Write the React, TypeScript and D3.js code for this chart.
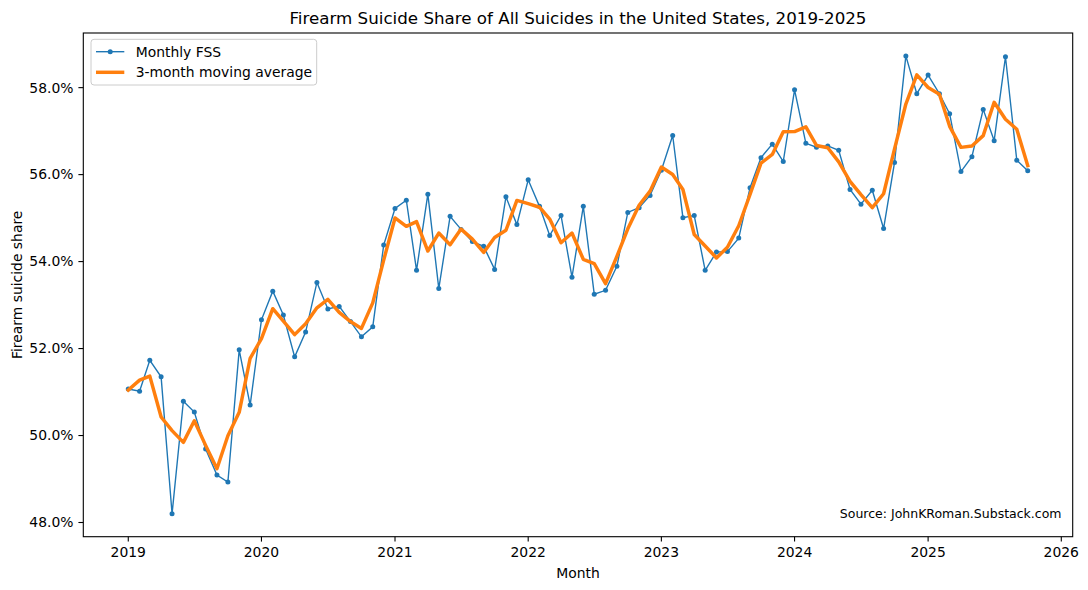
import { useEffect } from 'react'
import * as d3 from 'd3'

// Monthly firearm suicide share (%), Jan 2019 .. Oct 2025
const startMonth = '2019-01'
const monthlyFSS = [
  51.07, 51.02, 51.73, 51.35, 48.2, 50.79, 50.54, 49.69, 49.09, 48.93, 51.97, 50.7,
  52.66, 53.32, 52.77, 51.81, 52.38, 53.52, 52.91, 52.97, 52.62, 52.27, 52.5, 54.38,
  55.22, 55.41, 53.8, 55.55, 53.38, 55.04, 54.74, 54.46, 54.35, 53.82, 55.49, 54.85,
  55.88, 55.27, 54.6, 55.06, 53.64, 55.27, 53.25, 53.34, 53.89, 55.13, 55.24, 55.52,
  56.1, 56.9, 55.01, 55.06, 53.8, 54.22, 54.23, 54.54, 55.7, 56.39, 56.7, 56.3,
  57.95, 56.72, 56.63, 56.66, 56.56, 55.66, 55.32, 55.64, 54.76, 56.28, 58.73, 57.86,
  58.29, 57.86, 57.4, 56.07, 56.41, 57.5, 56.78, 58.71, 56.33, 56.09
]
const yTicks = [48, 50, 52, 54, 56, 58]
const xTickYears = [2019, 2020, 2021, 2022, 2023, 2024, 2025, 2026]

const W = 1088
const H = 590
const margin = { top: 33, right: 15.3, bottom: 53.3, left: 83.3 }
const font = 'DejaVu Sans, sans-serif'

type Pt = { date: Date; value: number }

export default function App() {
  useEffect(() => {
    document.body.style.margin = '0'
  }, [])

  const parse = d3.timeParse('%Y-%m')
  const start = parse(startMonth) as Date
  const points: Pt[] = monthlyFSS.map((v, i) => ({ date: d3.timeMonth.offset(start, i), value: v }))

  // centered 3-month rolling mean (min 1 period at the edges)
  const smooth: Pt[] = points.map((p, i) => {
    const win = monthlyFSS.slice(Math.max(0, i - 1), i + 2)
    return { date: p.date, value: d3.mean(win) as number }
  })

  const x0 = points[0].date.getTime()
  const x1 = points[points.length - 1].date.getTime()
  const xPad = (x1 - x0) * 0.05
  const [yMin, yMax] = d3.extent(monthlyFSS) as [number, number]
  const yPad = (yMax - yMin) * 0.05

  const x = d3.scaleTime()
    .domain([new Date(x0 - xPad), new Date(x1 + xPad)])
    .range([margin.left, W - margin.right])
  const y = d3.scaleLinear()
    .domain([yMin - yPad, yMax + yPad])
    .range([H - margin.bottom, margin.top])

  const line = d3.line<Pt>().x(d => x(d.date)).y(d => y(d.value))

  const left = margin.left
  const right = W - margin.right
  const top = margin.top
  const bottom = H - margin.bottom
  const tickLen = 4.9

  return (
    <svg width={W} height={H} style={{ display: 'block', background: '#fff' }} fontFamily={font}>
      <text x={(left + right) / 2} y={24} textAnchor="middle" fontSize={16.7} fill="#000">
        Firearm Suicide Share of All Suicides in the United States, 2019-2025
      </text>

      <path d={line(points) ?? ''} fill="none" stroke="#1f77b4" strokeWidth={1.39} />
      {points.map((d, i) => (
        <circle key={i} cx={x(d.date)} cy={y(d.value)} r={2.5} fill="#1f77b4" />
      ))}
      <path d={line(smooth) ?? ''} fill="none" stroke="#ff7f0e" strokeWidth={3.47} strokeLinejoin="round" strokeLinecap="square" />

      {/* axes frame */}
      <rect x={left} y={top} width={right - left} height={bottom - top} fill="none" stroke="#000" strokeWidth={1.1} />

      {/* y axis */}
      {yTicks.map(t => (
        <g key={t}>
          <line x1={left - tickLen} x2={left} y1={y(t)} y2={y(t)} stroke="#000" strokeWidth={1.1} />
          <text x={left - tickLen - 4.9} y={y(t)} dy="0.35em" textAnchor="end" fontSize={13.9} fill="#000">
            {t.toFixed(1)}%
          </text>
        </g>
      ))}
      <text transform={`translate(22,${(top + bottom) / 2}) rotate(-90)`} textAnchor="middle" fontSize={13.9} fill="#000">
        Firearm suicide share
      </text>

      {/* x axis */}
      {xTickYears.map(yr => {
        const px = x(new Date(yr, 0, 1))
        return (
          <g key={yr}>
            <line x1={px} x2={px} y1={bottom} y2={bottom + tickLen} stroke="#000" strokeWidth={1.1} />
            <text x={px} y={557} textAnchor="middle" fontSize={13.9} fill="#000">{yr}</text>
          </g>
        )
      })}
      <text x={(left + right) / 2} y={578} textAnchor="middle" fontSize={13.9} fill="#000">Month</text>

      {/* legend */}
      <rect x={91} y={39.3} width={225.7} height={45.7} rx={3} fill="#fff" fillOpacity={0.8} stroke="#ccc" strokeWidth={1} />
      <line x1={96} x2={124.3} y1={51.7} y2={51.7} stroke="#1f77b4" strokeWidth={1.39} />
      <circle cx={110.2} cy={51.7} r={2.5} fill="#1f77b4" />
      <text x={135.7} y={51.7} dy="0.35em" fontSize={13.9} fill="#000">Monthly FSS</text>
      <line x1={96} x2={124.3} y1={72.3} y2={72.3} stroke="#ff7f0e" strokeWidth={3.47} />
      <text x={135.7} y={72.3} dy="0.35em" fontSize={13.9} fill="#000">3-month moving average</text>

      <text x={1061.5} y={518} textAnchor="end" fontSize={12.5} fill="#000">Source: JohnKRoman.Substack.com</text>
    </svg>
  )
}
